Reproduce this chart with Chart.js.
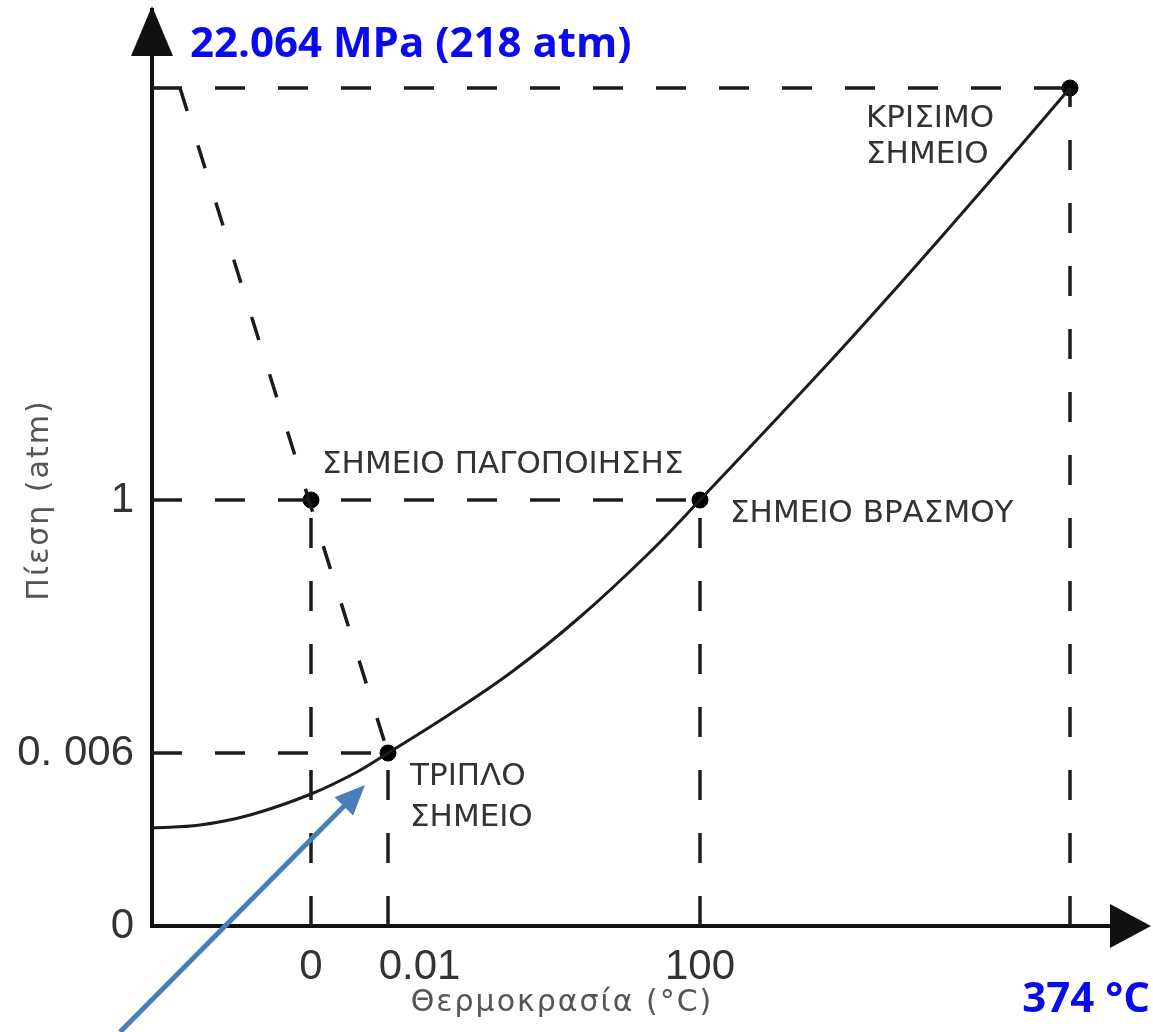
<!DOCTYPE html>
<html>
<head>
<meta charset="utf-8">
<script src="https://cdn.jsdelivr.net/npm/chart.js@4"></script>
<style>
  html, body { margin: 0; padding: 0; background: #fff; }
  canvas { display: block; }
</style>
</head>
<body>
<canvas id="phaseChart" width="1153" height="1032"></canvas>
<script>
// the diagram is schematic (not to scale), so axes use "diagram units"
// and the ticks carry the real values as labels
const tempLabels = ['0', '\u2002\u2002\u20020.01', '100'];
const tempPos = [159, 236, 548];
const pressLabels = ['0', '0. 006', '1'];
const pressPos = [0, 173, 426];

// special points: triple, freezing, boiling, critical
const pointX = [236, 159, 548, 918];
const pointY = [173, 426, 426, 838];

// vapour pressure curve (liquid / gas)
const vaporX = [0, 48, 98, 159, 205, 236, 295, 361, 428, 495, 548, 671, 738, 805, 871, 918];
const vaporY = [98, 101, 111, 132, 154, 173, 210, 255, 309, 371, 426, 557, 631, 707, 783, 838];

// melting line (solid / liquid), dashed
const meltX = [28, 236];
const meltY = [838, 173];

// blue pointer arrow, tail -> head
const pointerX = [-32, 213];
const pointerY = [-106, 141];

const ink = '#1c1c1c';
const dash = [30, 33];

function pts(xs, ys) {
  return xs.map((x, i) => ({ x: x, y: ys[i] }));
}

// dashed guide lines from each special point down to the axes
const guideSets = [];
pointX.forEach((x, i) => {
  const y = pointY[i];
  guideSets.push({
    data: [{ x: x, y: 0 }, { x: x, y: y }],
    showLine: true, borderColor: ink, borderWidth: 3.5, borderDash: dash,
    pointRadius: 0
  });
  // skip a horizontal guide if a point further right on the same level already draws it
  const covered = pointX.some((x2, j) => j !== i && pointY[j] === y && x2 > x);
  if (!covered) {
    guideSets.push({
      data: [{ x: 0, y: y }, { x: x, y: y }],
      showLine: true, borderColor: ink, borderWidth: 3.5, borderDash: dash,
      pointRadius: 0
    });
  }
});

const decor = {
  id: 'decor',
  afterDraw(chart) {
    const { ctx, chartArea: a, scales: { x, y } } = chart;
    ctx.save();

    // axis arrow heads
    ctx.fillStyle = '#111';
    ctx.beginPath();
    ctx.moveTo(a.left, a.top - 4);
    ctx.lineTo(a.left - 21, a.top + 46);
    ctx.lineTo(a.left + 21, a.top + 46);
    ctx.closePath();
    ctx.fill();
    ctx.beginPath();
    ctx.moveTo(a.right + 9, a.bottom);
    ctx.lineTo(a.right - 32, a.bottom - 22);
    ctx.lineTo(a.right - 32, a.bottom + 22);
    ctx.closePath();
    ctx.fill();

    // point labels
    ctx.fillStyle = '#333';
    ctx.font = '31px "DejaVu Sans"';
    ctx.textBaseline = 'middle';
    ctx.textAlign = 'left';
    const px = i => x.getPixelForValue(pointX[i]);
    const py = i => y.getPixelForValue(pointY[i]);
    ctx.fillText('ΚΡΙΣΙΜΟ', px(3) - 204, py(3) + 31);
    ctx.fillText('ΣΗΜΕΙΟ', px(3) - 204, py(3) + 67);
    ctx.fillText('ΣΗΜΕΙΟ ΠΑΓΟΠΟΙΗΣΗΣ', px(1) + 11, py(1) - 35);
    ctx.fillText('ΣΗΜΕΙΟ ΒΡΑΣΜΟΥ', px(2) + 30, py(2) + 14);
    ctx.fillText('ΤΡΙΠΛΟ', px(0) + 22, py(0) + 24);
    ctx.fillText('ΣΗΜΕΙΟ', px(0) + 22, py(0) + 65);

    // axis titles
    ctx.fillStyle = '#555';
    ctx.font = '30px "DejaVu Sans"';
    ctx.letterSpacing = '2px';
    ctx.textAlign = 'center';
    ctx.fillText('Θερμοκρασία (°C)', 562, 1003);
    ctx.save();
    ctx.translate(40, 500);
    ctx.rotate(-Math.PI / 2);
    ctx.fillText('Πίεση (atm)', 0, 0);
    ctx.restore();
    ctx.letterSpacing = '0px';

    // blue values at the critical point
    ctx.fillStyle = '#0a0aee';
    ctx.font = 'bold 42px "Open Sans"';
    ctx.textAlign = 'left';
    ctx.fillText('22.064 MPa (218 atm)', 190, 45);
    ctx.textAlign = 'right';
    ctx.fillText('374 °C', 1150, 1000);

    // blue pointer arrow
    const x0 = x.getPixelForValue(pointerX[0]), y0 = y.getPixelForValue(pointerY[0]);
    const x1 = x.getPixelForValue(pointerX[1]), y1 = y.getPixelForValue(pointerY[1]);
    const ang = Math.atan2(y1 - y0, x1 - x0);
    const headLen = 30, headW = 13;
    ctx.strokeStyle = '#4a7ebb';
    ctx.fillStyle = '#4a7ebb';
    ctx.lineWidth = 5;
    ctx.beginPath();
    ctx.moveTo(x0, y0);
    ctx.lineTo(x1 - Math.cos(ang) * headLen * 0.8, y1 - Math.sin(ang) * headLen * 0.8);
    ctx.stroke();
    ctx.beginPath();
    ctx.moveTo(x1, y1);
    ctx.lineTo(x1 - Math.cos(ang) * headLen + Math.sin(ang) * headW, y1 - Math.sin(ang) * headLen - Math.cos(ang) * headW);
    ctx.lineTo(x1 - Math.cos(ang) * headLen - Math.sin(ang) * headW, y1 - Math.sin(ang) * headLen + Math.cos(ang) * headW);
    ctx.closePath();
    ctx.fill();

    ctx.restore();
  }
};

new Chart(document.getElementById('phaseChart'), {
  type: 'scatter',
  data: {
    datasets: [
      ...guideSets,
      {
        data: pts(meltX, meltY),
        showLine: true, borderColor: ink, borderWidth: 3.5, borderDash: [24, 36],
        pointRadius: 0
      },
      {
        data: pts(vaporX, vaporY),
        showLine: true, borderColor: ink, borderWidth: 3, tension: 0.4,
        pointRadius: 0
      },
      {
        data: pts(pointX, pointY),
        showLine: false, pointRadius: 8, backgroundColor: '#000', borderColor: '#000'
      }
    ]
  },
  options: {
    responsive: false,
    animation: false,
    devicePixelRatio: 1,
    layout: { padding: { top: 10, right: 11, left: 0, bottom: 0 } },
    plugins: { legend: { display: false }, tooltip: { enabled: false } },
    scales: {
      x: {
        type: 'linear', min: 0, max: 990,
        grid: { display: false, drawTicks: false },
        border: { display: true, color: '#111', width: 4 },
        afterBuildTicks: s => { s.ticks = tempPos.map(v => ({ value: v })); },
        afterFit: s => { s.height = 106; s.paddingLeft = 0; s.paddingRight = 0; },
        ticks: {
          autoSkip: false, maxRotation: 0, padding: 16, color: '#333',
          font: { family: 'Liberation Sans', size: 42 },
          callback: (v, i) => tempLabels[i]
        }
      },
      y: {
        type: 'linear', min: 0, max: 916,
        grid: { display: false, drawTicks: false },
        border: { display: true, color: '#111', width: 4 },
        afterBuildTicks: s => { s.ticks = pressPos.map(v => ({ value: v })); },
        afterFit: s => { s.width = 152; s.paddingTop = 0; s.paddingBottom = 0; },
        ticks: {
          autoSkip: false, padding: 18, color: '#333',
          font: { family: 'Liberation Sans', size: 42 },
          callback: (v, i) => pressLabels[i]
        }
      }
    }
  },
  plugins: [decor]
});
</script>
</body>
</html>
